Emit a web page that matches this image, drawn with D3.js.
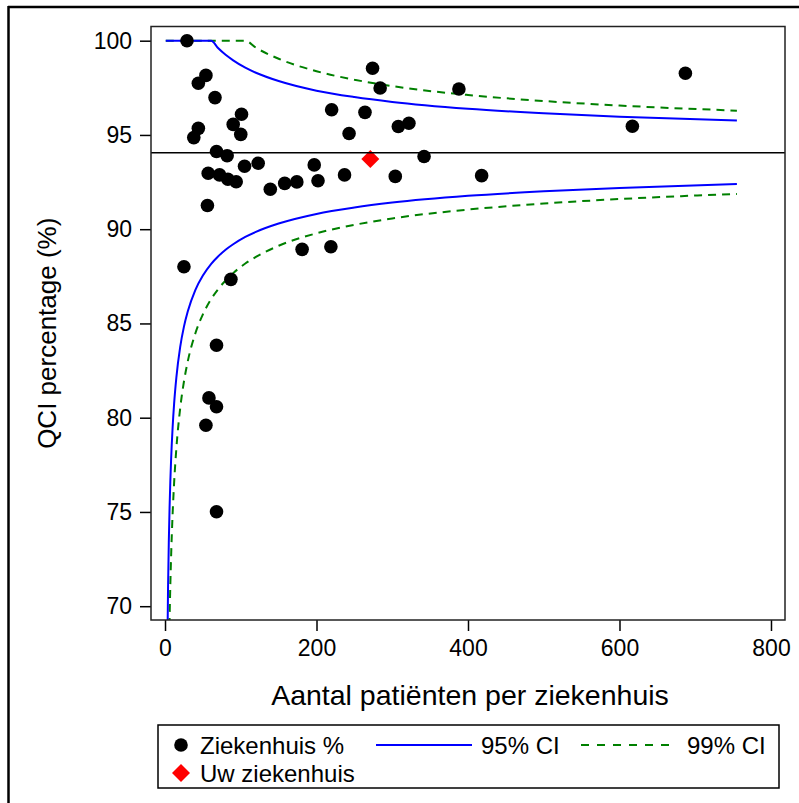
<!DOCTYPE html>
<html>
<head>
<meta charset="utf-8">
<script src="https://cdn.jsdelivr.net/npm/d3@7"></script>
<style>
  body { margin: 0; background: #fff; }
  svg { display: block; }
  text { font-family: "Liberation Sans", Arial, sans-serif; fill: #000; }
</style>
</head>
<body>
<svg id="chart" width="799" height="803"></svg>
<script>
// ---- Data ----
const hospitalN   = [29, 54, 44, 66, 274, 284, 388, 101, 90, 100, 44, 38, 220, 264, 243, 308, 322, 342, 68, 82, 57, 72, 83, 94, 105, 123, 139, 158, 174, 197, 202, 237, 304, 56, 687, 617, 418, 25, 87, 181, 219, 68, 58, 68, 54, 68];
const hospitalPct = [100.0, 98.16, 97.74, 96.98, 98.54, 97.49, 97.44, 96.10, 95.56, 95.03, 95.35, 94.86, 96.34, 96.20, 95.08, 95.45, 95.62, 93.86, 94.12, 93.90, 92.97, 92.88, 92.65, 92.52, 93.34, 93.50, 92.12, 92.43, 92.51, 93.41, 92.57, 92.88, 92.80, 91.26, 98.27, 95.46, 92.84, 88.01, 87.34, 88.93, 89.07, 83.84, 81.05, 80.58, 79.60, 75.01];
const ownN = [271];
const ownPct = [93.72];
const meanPct = 94.06;

// CI curves
const ciN        = [1, 2, 3, 4, 5, 6, 7, 8, 10, 12, 15, 20, 25, 30, 40, 50, 61, 70, 80, 90, 106, 120, 150, 200, 250, 300, 400, 500, 600, 755];
const upper95    = [100, 100, 100, 100, 100, 100, 100, 100, 100, 100, 100, 100, 100, 100, 100, 100, 100, 99.61, 99.25, 98.96, 98.57, 98.30, 97.86, 97.35, 97.01, 96.75, 96.39, 96.15, 95.97, 95.76];
const lower95    = [47.82, 61.37, 67.37, 70.95, 73.39, 75.20, 76.60, 77.73, 79.45, 80.73, 82.14, 83.74, 84.83, 85.63, 86.77, 87.54, 88.16, 88.55, 88.91, 89.20, 89.59, 89.86, 90.30, 90.81, 91.15, 91.41, 91.77, 92.01, 92.19, 92.40];
const upper99    = [100, 100, 100, 100, 100, 100, 100, 100, 100, 100, 100, 100, 100, 100, 100, 100, 100, 100, 100, 100, 100, 99.63, 99.04, 98.38, 97.93, 97.59, 97.12, 96.80, 96.56, 96.29];
const lower99    = [33.29, 51.09, 58.98, 63.68, 66.89, 69.26, 71.10, 72.59, 74.86, 76.53, 78.38, 80.49, 81.92, 82.98, 84.47, 85.48, 86.30, 86.81, 87.28, 87.67, 88.18, 88.53, 89.12, 89.78, 90.23, 90.57, 91.04, 91.36, 91.60, 91.87];

const xTicks = [0, 200, 400, 600, 800];
const yTicks = [70, 75, 80, 85, 90, 95, 100];

const xTitle = "Aantal patiënten per ziekenhuis";
const yTitle = "QCI percentage (%)";
const legendLabels = ["Ziekenhuis %", "95% CI", "99% CI", "Uw ziekenhuis"];

// ---- Layout ----
const svg = d3.select("#chart");
const plot = { left: 151, right: 785, top: 26.5, bottom: 620 };

const x = d3.scaleLinear().domain([-18.5, 818.5]).range([plot.left, plot.right]);
const y = d3.scaleLinear().domain([69.268, 100.753]).range([plot.bottom, plot.top]);

// outer border (top + left visible)
svg.append("line").attr("x1", 8).attr("x2", 799).attr("y1", 7).attr("y2", 7)
  .attr("stroke", "#000").attr("stroke-width", 2.5);
svg.append("line").attr("x1", 8.5).attr("x2", 8.5).attr("y1", 6).attr("y2", 803)
  .attr("stroke", "#000").attr("stroke-width", 2.5);

svg.append("defs").append("clipPath").attr("id", "clip")
  .append("rect").attr("x", plot.left).attr("y", plot.top)
  .attr("width", plot.right - plot.left).attr("height", plot.bottom - plot.top);

// axes
const xAxis = d3.axisBottom(x).tickValues(xTicks).tickSize(11).tickPadding(9).tickSizeOuter(0);
const yAxis = d3.axisLeft(y).tickValues(yTicks).tickSize(11).tickPadding(8).tickSizeOuter(0);

const gx = svg.append("g").attr("transform", `translate(0,${plot.bottom})`).call(xAxis);
const gy = svg.append("g").attr("transform", `translate(${plot.left},0)`).call(yAxis);
[gx, gy].forEach(g => {
  g.select(".domain").remove();
  g.selectAll(".tick line").attr("stroke", "#000").attr("stroke-width", 1.5);
  g.selectAll(".tick text").attr("font-size", 23).attr("fill", "#000")
    .attr("font-family", '"Liberation Sans", Arial, sans-serif');
});

// CI lines
const clipG = svg.append("g").attr("clip-path", "url(#clip)");
const line = d3.line().x(d => x(d[0])).y(d => y(d[1])).curve(d3.curveMonotoneX);
const mk = arr => ciN.map((n, i) => [n, arr[i]]);

clipG.append("path").datum(mk(upper99)).attr("d", line)
  .attr("fill", "none").attr("stroke", "#008000").attr("stroke-width", 2).attr("stroke-dasharray", "8,6");
clipG.append("path").datum(mk(lower99)).attr("d", line)
  .attr("fill", "none").attr("stroke", "#008000").attr("stroke-width", 2).attr("stroke-dasharray", "8,6");
clipG.append("path").datum(mk(upper95)).attr("d", line)
  .attr("fill", "none").attr("stroke", "#0000ff").attr("stroke-width", 2);
clipG.append("path").datum(mk(lower95)).attr("d", line)
  .attr("fill", "none").attr("stroke", "#0000ff").attr("stroke-width", 2);

// mean line
svg.append("line").attr("x1", plot.left).attr("x2", plot.right)
  .attr("y1", y(meanPct)).attr("y2", y(meanPct))
  .attr("stroke", "#000").attr("stroke-width", 1.5);

// hospital points
clipG.selectAll("circle.h").data(hospitalN.map((n, i) => [n, hospitalPct[i]]))
  .enter().append("circle").attr("class", "h")
  .attr("cx", d => x(d[0])).attr("cy", d => y(d[1])).attr("r", 6.8).attr("fill", "#000");

// own hospital
clipG.selectAll("path.own").data(ownN.map((n, i) => [n, ownPct[i]]))
  .enter().append("path").attr("class", "own")
  .attr("transform", d => `translate(${x(d[0])},${y(d[1])}) rotate(45)`)
  .attr("d", d3.symbol().type(d3.symbolSquare).size(162)())
  .attr("fill", "#ff0000");

// frame
svg.append("rect").attr("x", plot.left).attr("y", plot.top)
  .attr("width", plot.right - plot.left).attr("height", plot.bottom - plot.top)
  .attr("fill", "none").attr("stroke", "#222").attr("stroke-width", 1.5);

// titles
svg.append("text").attr("x", (plot.left + plot.right) / 2 + 2).attr("y", 705)
  .attr("text-anchor", "middle").attr("font-size", 28.5).text(xTitle);
svg.append("text").attr("transform", `translate(56,${(plot.top + plot.bottom) / 2 + 10}) rotate(-90)`)
  .attr("text-anchor", "middle").attr("font-size", 26).text(yTitle);

// legend
const lg = svg.append("g");
lg.append("rect").attr("x", 158).attr("y", 725).attr("width", 621).attr("height", 63)
  .attr("fill", "#fff").attr("stroke", "#000").attr("stroke-width", 1.5);
const r1 = 745, r2 = 773;
lg.append("circle").attr("cx", 181).attr("cy", r1).attr("r", 6.8).attr("fill", "#000");
lg.append("text").attr("x", 200).attr("y", r1 + 8.5).attr("font-size", 24).text(legendLabels[0]);
lg.append("line").attr("x1", 376).attr("x2", 472).attr("y1", r1).attr("y2", r1)
  .attr("stroke", "#0000ff").attr("stroke-width", 2);
lg.append("text").attr("x", 481).attr("y", r1 + 8.5).attr("font-size", 24).text(legendLabels[1]);
lg.append("line").attr("x1", 581).attr("x2", 672).attr("y1", r1).attr("y2", r1)
  .attr("stroke", "#008000").attr("stroke-width", 2).attr("stroke-dasharray", "8,8");
lg.append("text").attr("x", 687).attr("y", r1 + 8.5).attr("font-size", 24).text(legendLabels[2]);
lg.append("path").attr("transform", `translate(181,${r2}) rotate(45)`)
  .attr("d", d3.symbol().type(d3.symbolSquare).size(162)()).attr("fill", "#ff0000");
lg.append("text").attr("x", 200).attr("y", r2 + 8.5).attr("font-size", 24).text(legendLabels[3]);
</script>
</body>
</html>
